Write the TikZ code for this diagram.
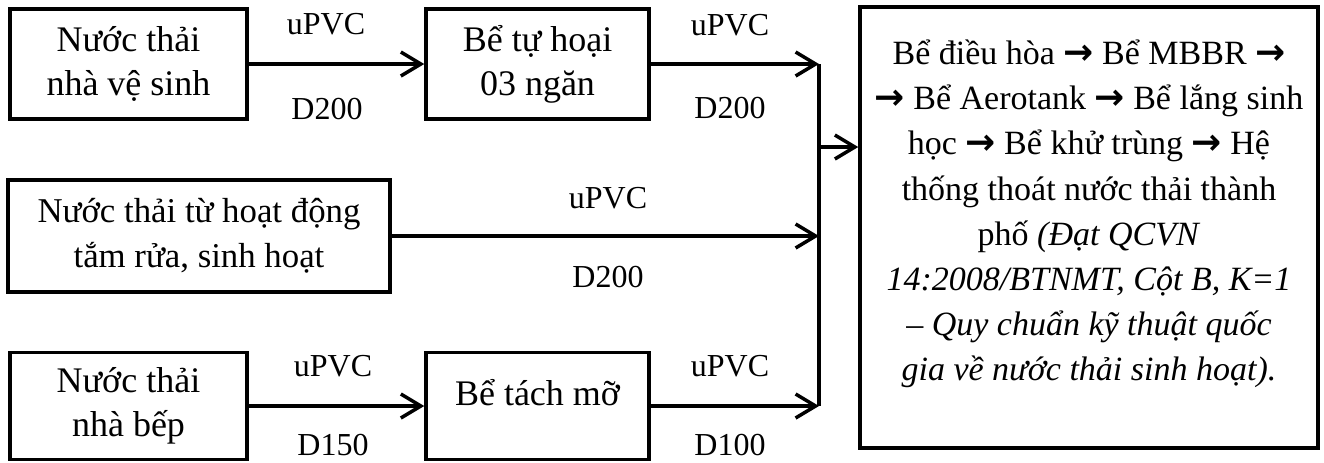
\documentclass[tikz,border=0pt]{standalone}
\usepackage{fontspec}
\setmainfont{Liberation Serif}
\newfontfamily\arrowfont{DejaVu Sans}
\usetikzlibrary{arrows.meta}
\newcommand{\stagearrow}{{\arrowfont\bfseries\fontsize{18}{22.6}\selectfont →}}
\begin{document}
\begin{tikzpicture}[x=0.5pt,y=-0.5pt,
  line width=1.75pt,
  box/.style={draw, line width=1.75pt, inner sep=0pt, align=center,
    font=\fontsize{18}{22}\selectfont},
  boxtext/.style={inner sep=0pt, font=\fontsize{18}{22}\selectfont},
  pipe/.style={inner sep=0pt, font=\fontsize{16}{19}\selectfont},
  flow/.style={-{Straight Barb[length=10pt,width=12pt]}},
]
\useasboundingbox (0,0) rectangle (1324,462);

% sources and pre-treatment tanks
\node[box, minimum width=118.5pt, minimum height=55pt] (wc) at (128.5,64) {Nước thải\\nhà vệ sinh};
\node[box, minimum width=111.5pt, minimum height=55pt] (septic) at (537.5,64) {Bể tự hoại\\03 ngăn};
\node[box, minimum width=191pt, minimum height=56pt, font=\fontsize{17.4}{22.5}\selectfont] (bath) at (199,236) {Nước thải từ hoạt động\\tắm rửa, sinh hoạt};
\node[box, minimum width=118.5pt, minimum height=53.5pt] (kitchen) at (128.5,406) {Nước thải\\nhà bếp};
\node[box, minimum width=111.5pt, minimum height=53.5pt] (grease) at (537.5,406) {};
\node[boxtext] (greasetxt) at (537.5,393) {Bể tách mỡ};

% treatment plant
\node[box, minimum width=229pt, minimum height=220.5pt] (plant) at (1089,227.5) {};
\node[align=center, inner sep=0pt, font=\fontsize{17}{22.6}\selectfont] (planttxt) at (1089,214)
  {Bể điều hòa \stagearrow{} Bể MBBR \stagearrow\\
   \stagearrow{} Bể Aerotank \stagearrow{} Bể lắng sinh\\
   học \stagearrow{} Bể khử trùng \stagearrow{} Hệ\\
   thống thoát nước thải thành\\
   phố \textit{(Đạt QCVN}\\
   \textit{14:2008/BTNMT, Cột B, K=1}\\
   \textit{– Quy chuẩn kỹ thuật quốc}\\
   \textit{gia về nước thải sinh hoạt).}};

% collector
\coordinate (jt) at (819,64);
\coordinate (jm) at (819,236);
\coordinate (jb) at (819,406);
\coordinate (jo) at (819,147);

\draw[flow] (wc) -- (septic);
\draw[flow] (septic) -- (jt);
\draw[flow] (bath) -- (jm);
\draw[flow] (kitchen) -- (grease);
\draw[flow] (grease) -- (jb);
\draw (jt) -- (jb);
\draw[flow] (jo) -- (jo -| plant.west);

% pipe labels
\node[pipe] (m1) at (326,24) {uPVC};
\node[pipe] (d1) at (327,109) {D200};
\node[pipe] (m2) at (730,25) {uPVC};
\node[pipe] (d2) at (730,108) {D200};
\node[pipe] (m3) at (608,198) {uPVC};
\node[pipe] (d3) at (608,277) {D200};
\node[pipe] (m4) at (333,366) {uPVC};
\node[pipe] (d4) at (333,445) {D150};
\node[pipe] (m5) at (730,366) {uPVC};
\node[pipe] (d5) at (730,445) {D100};
\end{tikzpicture}
\end{document}
